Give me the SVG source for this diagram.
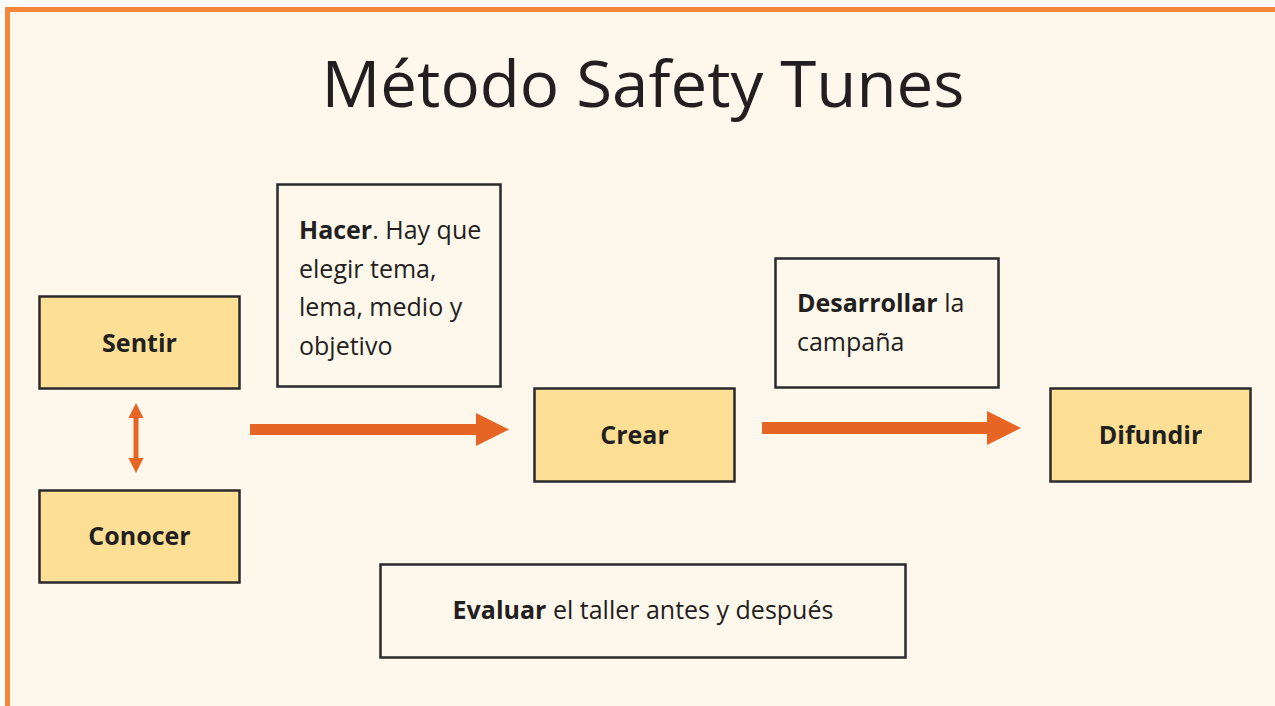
<svg xmlns="http://www.w3.org/2000/svg" width="1275" height="706" viewBox="0 0 1275 706">
<style>
.bg{fill:#fef7ec}
.frame{fill:#f5873a}
.step{fill:#fde095;stroke:#2a2a2a;stroke-width:2.5}
.note{fill:#fef7ec;stroke:#2a2a2a;stroke-width:2.5}
text{font-family:"Open Sans","Liberation Sans",sans-serif;fill:#231f20}
.t{font-size:25px}
.b{font-weight:bold}
.c{text-anchor:middle}
.arrow{fill:#e66525}
</style>
<rect width="1275" height="706" fill="#ffffff"/>
<rect x="5" y="7" width="1270" height="699" class="frame"/>
<rect x="10" y="12" width="1265" height="694" class="bg"/>
<text x="643" y="107" font-size="64" class="c" textLength="643" lengthAdjust="spacingAndGlyphs">Método Safety Tunes</text>
<g id="connectors">
<polygon class="arrow" points="250,424 476,424 476,413 509,429.5 476,446 476,435 250,435"/>
<polygon class="arrow" points="762,422 987,422 987,411 1021,428 987,445 987,434 762,434"/>
<polygon class="arrow" points="136,403 143.5,418 138.5,418 138.5,458 143.5,458 136,473 128.5,458 133.5,458 133.5,418 128.5,418"/>
</g>
<g id="sentir">
<rect x="39.5" y="296.5" width="200" height="92" class="step"/>
<text x="139.5" y="352" class="t b c">Sentir</text>
</g>
<g id="conocer">
<rect x="39.5" y="490.5" width="200" height="92" class="step"/>
<text x="139.5" y="545" class="t b c">Conocer</text>
</g>
<g id="hacer">
<rect x="277.5" y="184.5" width="223" height="202" class="note"/>
<text x="299" y="239" class="t"><tspan class="b">Hacer</tspan>. Hay que</text>
<text x="299" y="278" class="t">elegir tema,</text>
<text x="299" y="316" class="t">lema, medio y</text>
<text x="299" y="355" class="t">objetivo</text>
</g>
<g id="crear">
<rect x="534.5" y="388.5" width="200" height="93" class="step"/>
<text x="634.5" y="444" class="t b c">Crear</text>
</g>
<g id="desarrollar">
<rect x="775.5" y="258.5" width="223" height="129" class="note"/>
<text x="797" y="312" class="t"><tspan class="b">Desarrollar</tspan> la</text>
<text x="797" y="351" class="t">campaña</text>
</g>
<g id="difundir">
<rect x="1050.5" y="388.5" width="200" height="93" class="step"/>
<text x="1150.5" y="444" class="t b c">Difundir</text>
</g>
<g id="evaluar">
<rect x="380.5" y="564.5" width="525" height="93" class="note"/>
<text x="643" y="619" class="t c"><tspan class="b">Evaluar</tspan> el taller antes y después</text>
</g>
</svg>
